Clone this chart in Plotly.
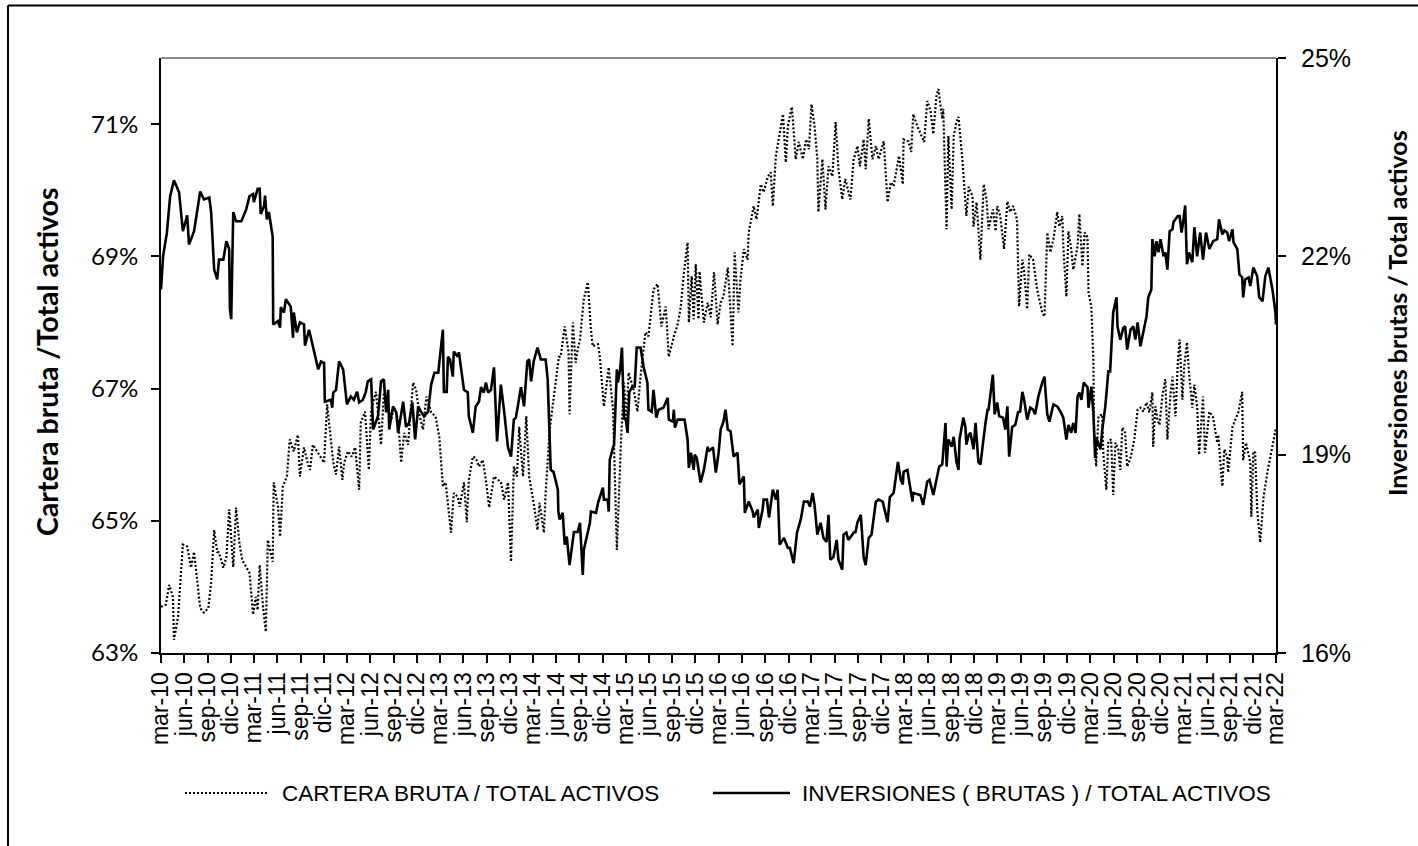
import pandas as pd
import plotly.graph_objects as go

# Inversiones (brutas) / Total activos, % (eje derecho)
inv_fechas = [
    "2010-03-01", "2010-03-09", "2010-03-24", "2010-04-06", "2010-04-21", "2010-05-11", "2010-05-26", "2010-06-12", "2010-06-19", "2010-07-09",
    "2010-08-02", "2010-08-17", "2010-09-07", "2010-09-14", "2010-09-26", "2010-10-08", "2010-10-15", "2010-11-01", "2010-11-13", "2010-11-24",
    "2010-11-27", "2010-12-02", "2010-12-10", "2010-12-21", "2011-01-11", "2011-01-30", "2011-02-12", "2011-02-26", "2011-03-01", "2011-03-16",
    "2011-03-24", "2011-03-28", "2011-04-10", "2011-04-14", "2011-04-21", "2011-04-29", "2011-05-14", "2011-05-16", "2011-06-04", "2011-06-12",
    "2011-06-15", "2011-06-27", "2011-07-05", "2011-07-24", "2011-08-02", "2011-08-05", "2011-08-17", "2011-08-29", "2011-09-14", "2011-09-18",
    "2011-10-04", "2011-10-23", "2011-11-09", "2011-11-20", "2011-12-02", "2011-12-05", "2011-12-29", "2012-01-03", "2012-01-07", "2012-01-18",
    "2012-01-30", "2012-02-15", "2012-03-01", "2012-03-16", "2012-03-28", "2012-04-10", "2012-04-18", "2012-05-03", "2012-05-14", "2012-05-22",
    "2012-06-04", "2012-06-12", "2012-07-01", "2012-07-13", "2012-07-24", "2012-08-02", "2012-08-10", "2012-08-14", "2012-08-29", "2012-09-11",
    "2012-09-18", "2012-10-08", "2012-10-19", "2012-10-31", "2012-11-13", "2012-11-24", "2012-12-06", "2012-12-17", "2012-12-29", "2013-01-14",
    "2013-01-26", "2013-02-08", "2013-02-23", "2013-02-27", "2013-03-13", "2013-03-17", "2013-03-28", "2013-04-02", "2013-04-10", "2013-04-21",
    "2013-04-25", "2013-05-11", "2013-05-15", "2013-06-04", "2013-06-19", "2013-06-23", "2013-07-09", "2013-07-20", "2013-08-02", "2013-08-10",
    "2013-08-21", "2013-08-29", "2013-09-07", "2013-09-18", "2013-09-30", "2013-10-12", "2013-10-27", "2013-11-09", "2013-11-24", "2013-12-06",
    "2013-12-17", "2013-12-25", "2014-01-07", "2014-01-14", "2014-01-26", "2014-02-08", "2014-02-15", "2014-02-23", "2014-03-05", "2014-03-20",
    "2014-04-02", "2014-04-21", "2014-04-29", "2014-05-11", "2014-05-22", "2014-06-08", "2014-06-10", "2014-06-15", "2014-06-27", "2014-07-05",
    "2014-07-13", "2014-07-24", "2014-08-10", "2014-08-25", "2014-09-03", "2014-09-14", "2014-09-18", "2014-10-12", "2014-10-16", "2014-11-05",
    "2014-11-13", "2014-12-02", "2014-12-06", "2014-12-21", "2014-12-25", "2014-12-29", "2015-01-11", "2015-01-15", "2015-01-26", "2015-01-30",
    "2015-02-08", "2015-02-15", "2015-02-23", "2015-03-01", "2015-03-09", "2015-03-16", "2015-03-28", "2015-04-06", "2015-04-14", "2015-04-29",
    "2015-05-11", "2015-05-26", "2015-05-30", "2015-06-12", "2015-06-19", "2015-06-30", "2015-07-09", "2015-07-28", "2015-08-14", "2015-08-18",
    "2015-09-03", "2015-09-07", "2015-09-11", "2015-09-22", "2015-10-19", "2015-10-31", "2015-11-05", "2015-11-13", "2015-11-24", "2015-11-28",
    "2015-12-06", "2015-12-21", "2016-01-03", "2016-01-18", "2016-01-22", "2016-02-08", "2016-02-19", "2016-03-01", "2016-03-09", "2016-03-20",
    "2016-03-28", "2016-04-06", "2016-04-17", "2016-04-29", "2016-05-14", "2016-05-22", "2016-06-08", "2016-06-12", "2016-06-27", "2016-07-13",
    "2016-07-17", "2016-08-02", "2016-08-06", "2016-08-21", "2016-08-25", "2016-09-07", "2016-09-15", "2016-09-30", "2016-10-12", "2016-10-19",
    "2016-10-27", "2016-11-13", "2016-11-28", "2016-12-06", "2016-12-21", "2017-01-03", "2017-01-18", "2017-01-30", "2017-02-15", "2017-02-23",
    "2017-03-05", "2017-03-13", "2017-03-24", "2017-04-06", "2017-04-17", "2017-04-29", "2017-05-07", "2017-05-14", "2017-05-26", "2017-06-08",
    "2017-06-15", "2017-06-30", "2017-07-05", "2017-07-16", "2017-07-24", "2017-08-14", "2017-08-21", "2017-08-29", "2017-09-11", "2017-09-22",
    "2017-09-30", "2017-10-12", "2017-10-23", "2017-11-09", "2017-11-20", "2017-12-06", "2017-12-25", "2018-01-03", "2018-01-18", "2018-01-22",
    "2018-02-04", "2018-02-15", "2018-02-23", "2018-02-26", "2018-03-13", "2018-04-02", "2018-04-05", "2018-05-03", "2018-05-14", "2018-05-30",
    "2018-06-08", "2018-06-23", "2018-07-09", "2018-07-16", "2018-07-28", "2018-08-10", "2018-08-14", "2018-08-21", "2018-09-03", "2018-09-11",
    "2018-09-22", "2018-09-30", "2018-10-04", "2018-10-19", "2018-10-27", "2018-10-31", "2018-11-09", "2018-11-16", "2018-11-28", "2018-12-06",
    "2018-12-17", "2018-12-25", "2019-01-14", "2019-01-22", "2019-01-26", "2019-02-12", "2019-02-19", "2019-03-01", "2019-03-09", "2019-03-24",
    "2019-04-02", "2019-04-10", "2019-04-17", "2019-04-29", "2019-05-11", "2019-05-22", "2019-05-30", "2019-06-08", "2019-06-15", "2019-06-27",
    "2019-07-09", "2019-07-20", "2019-07-28", "2019-08-10", "2019-08-25", "2019-09-03", "2019-09-07", "2019-09-14", "2019-09-22", "2019-10-08",
    "2019-10-23", "2019-11-05", "2019-11-16", "2019-11-28", "2019-12-06", "2019-12-17", "2019-12-25", "2020-01-03", "2020-01-11", "2020-01-18",
    "2020-01-26", "2020-02-04", "2020-02-19", "2020-02-23", "2020-03-05", "2020-03-13", "2020-03-20", "2020-03-24", "2020-04-10", "2020-04-17",
    "2020-04-29", "2020-05-11", "2020-05-18", "2020-05-26", "2020-05-30", "2020-06-12", "2020-06-16", "2020-06-27", "2020-07-09", "2020-07-16",
    "2020-07-24", "2020-08-06", "2020-08-17", "2020-08-25", "2020-09-03", "2020-09-14", "2020-09-26", "2020-10-08", "2020-10-15", "2020-10-27",
    "2020-10-31", "2020-11-09", "2020-11-16", "2020-11-24", "2020-12-02", "2020-12-14", "2020-12-21", "2020-12-29", "2021-01-07", "2021-01-18",
    "2021-01-22", "2021-02-08", "2021-02-15", "2021-02-23", "2021-03-01", "2021-03-09", "2021-03-16", "2021-03-24", "2021-04-06", "2021-04-14",
    "2021-04-25", "2021-05-07", "2021-05-18", "2021-05-30", "2021-06-12", "2021-06-27", "2021-07-13", "2021-07-20", "2021-08-02", "2021-08-10",
    "2021-08-21", "2021-08-29", "2021-09-11", "2021-09-15", "2021-09-30", "2021-10-08", "2021-10-19", "2021-10-23", "2021-10-31", "2021-11-13",
    "2021-11-20", "2021-12-02", "2021-12-17", "2021-12-25", "2022-01-07", "2022-01-18", "2022-01-30", "2022-02-08", "2022-02-15", "2022-02-27",
    "2022-03-01",
]
inv_valores = [
    21.50, 22.00, 22.35, 22.91, 23.15, 22.97, 22.38, 22.62, 22.18, 22.38,
    22.98, 22.86, 22.89, 22.67, 21.80, 21.65, 21.95, 21.95, 22.23, 22.11,
    21.20, 21.05, 22.67, 22.53, 22.53, 22.71, 22.91, 22.94, 22.82, 23.02,
    23.02, 22.64, 22.76, 22.92, 22.56, 22.67, 22.30, 20.97, 21.02, 20.92,
    21.23, 21.15, 21.35, 21.24, 20.77, 21.15, 20.85, 21.00, 20.97, 20.65,
    20.89, 20.59, 20.29, 20.41, 20.39, 19.80, 19.83, 19.71, 19.94, 19.98,
    20.41, 20.29, 19.76, 19.88, 19.83, 19.95, 19.79, 19.83, 19.95, 20.11,
    20.14, 19.38, 19.58, 20.11, 20.14, 19.64, 19.98, 19.38, 19.73, 19.64,
    19.33, 19.80, 19.42, 19.48, 19.79, 19.23, 19.73, 19.65, 19.58, 19.65,
    20.06, 20.24, 20.24, 20.39, 20.89, 19.95, 19.95, 20.48, 20.44, 20.18,
    20.56, 20.48, 20.55, 19.98, 19.94, 19.58, 19.33, 19.73, 19.80, 20.02,
    19.94, 20.09, 19.94, 19.98, 20.32, 19.20, 20.06, 19.65, 19.11, 18.97,
    19.53, 19.56, 19.86, 20.02, 19.73, 20.41, 20.44, 20.11, 20.41, 20.62,
    20.44, 20.44, 20.14, 18.77, 18.74, 18.47, 18.14, 18.02, 18.12, 17.64,
    17.76, 17.33, 17.83, 17.83, 17.97, 17.18, 17.56, 17.97, 18.14, 18.12,
    18.27, 18.50, 18.32, 18.32, 18.14, 18.92, 19.11, 19.15, 20.29, 20.09,
    20.29, 20.62, 19.53, 19.56, 19.33, 19.95, 20.03, 20.03, 20.62, 20.62,
    20.33, 20.09, 19.68, 19.65, 19.98, 19.56, 19.68, 19.71, 19.86, 19.53,
    19.50, 19.68, 19.41, 19.53, 19.53, 19.23, 18.80, 19.03, 18.77, 19.00,
    18.95, 18.58, 18.77, 19.12, 19.05, 19.11, 18.73, 19.03, 19.38, 19.50,
    19.68, 19.38, 19.35, 18.97, 19.03, 18.55, 18.67, 18.12, 18.29, 18.14,
    18.05, 18.17, 17.89, 18.17, 18.32, 18.32, 18.05, 18.47, 18.32, 18.47,
    17.64, 17.74, 17.59, 17.59, 17.36, 17.82, 18.02, 18.29, 18.29, 18.21,
    18.42, 18.24, 17.79, 17.97, 17.74, 17.68, 18.09, 17.41, 17.45, 17.71,
    17.41, 17.26, 17.79, 17.82, 17.71, 17.82, 17.83, 17.98, 18.09, 17.45,
    17.33, 17.74, 17.79, 18.29, 18.32, 18.29, 17.98, 18.36, 18.42, 18.55,
    18.89, 18.62, 18.55, 18.74, 18.77, 18.29, 18.42, 18.39, 18.24, 18.59,
    18.62, 18.39, 18.67, 18.82, 18.85, 19.48, 18.82, 19.23, 19.12, 19.27,
    18.89, 18.77, 19.23, 19.56, 19.42, 19.15, 19.30, 19.33, 19.08, 19.48,
    18.89, 18.85, 19.48, 19.68, 19.68, 20.21, 19.61, 19.79, 19.58, 19.56,
    19.38, 19.73, 18.97, 19.42, 19.45, 19.64, 19.65, 19.95, 19.83, 19.53,
    19.71, 19.68, 19.61, 19.88, 20.09, 20.18, 19.95, 19.61, 19.50, 19.76,
    19.73, 19.65, 19.56, 19.23, 19.45, 19.33, 19.48, 19.33, 19.88, 19.94,
    19.83, 20.09, 20.02, 19.71, 20.03, 19.64, 18.95, 19.26, 19.08, 19.38,
    19.73, 20.26, 20.26, 20.89, 21.15, 21.38, 20.94, 20.74, 20.92, 20.94,
    20.59, 20.89, 20.94, 20.74, 21.00, 20.64, 20.89, 21.09, 21.38, 21.50,
    22.26, 22.00, 22.23, 22.06, 22.26, 22.00, 22.06, 21.80, 22.38, 22.41,
    22.52, 22.61, 22.61, 22.36, 22.52, 22.77, 21.88, 22.06, 21.91, 22.44,
    22.00, 22.36, 21.95, 22.36, 22.11, 22.23, 22.26, 22.56, 22.33, 22.39,
    22.36, 22.23, 22.41, 22.21, 22.11, 21.73, 21.68, 21.38, 21.65, 21.68,
    21.55, 21.83, 21.70, 21.38, 21.32, 21.70, 21.83, 21.65, 21.50, 21.15,
    20.97,
]

# Cartera bruta / Total activos, % (eje izquierdo)
cartera_fechas = [
    "2010-03-01", "2010-03-20", "2010-04-02", "2010-04-17", "2010-04-21", "2010-05-07", "2010-05-26", "2010-06-12", "2010-06-27", "2010-07-09",
    "2010-07-24", "2010-08-02", "2010-08-17", "2010-09-03", "2010-09-14", "2010-09-26", "2010-10-08", "2010-10-15", "2010-11-01", "2010-11-13",
    "2010-11-24", "2010-12-10", "2010-12-21", "2011-01-03", "2011-01-14", "2011-01-30", "2011-02-12", "2011-02-26", "2011-03-09", "2011-03-16",
    "2011-03-24", "2011-04-06", "2011-04-17", "2011-04-25", "2011-05-14", "2011-05-18", "2011-06-04", "2011-06-12", "2011-06-23", "2011-07-09",
    "2011-07-20", "2011-08-05", "2011-08-21", "2011-08-29", "2011-09-14", "2011-09-30", "2011-10-08", "2011-10-19", "2011-11-05", "2011-11-20",
    "2011-12-02", "2011-12-14", "2011-12-25", "2012-01-07", "2012-01-18", "2012-01-30", "2012-02-12", "2012-02-19", "2012-03-05", "2012-03-20",
    "2012-04-02", "2012-04-18", "2012-04-24", "2012-05-11", "2012-05-26", "2012-06-04", "2012-06-23", "2012-07-13", "2012-07-24", "2012-08-10",
    "2012-08-21", "2012-09-03", "2012-09-18", "2012-09-30", "2012-10-12", "2012-10-27", "2012-11-16", "2012-11-28", "2012-12-10", "2012-12-25",
    "2013-01-07", "2013-01-26", "2013-02-12", "2013-02-27", "2013-03-13", "2013-03-24", "2013-04-14", "2013-04-25", "2013-05-11", "2013-05-18",
    "2013-06-04", "2013-06-15", "2013-06-23", "2013-07-09", "2013-07-20", "2013-08-02", "2013-08-17", "2013-08-29", "2013-09-11", "2013-09-30",
    "2013-10-15", "2013-10-27", "2013-11-09", "2013-11-24", "2013-12-06", "2013-12-17", "2013-12-29", "2014-01-07", "2014-01-22", "2014-02-04",
    "2014-02-15", "2014-03-05", "2014-03-20", "2014-03-28", "2014-04-14", "2014-04-21", "2014-05-07", "2014-05-22", "2014-06-12", "2014-06-19",
    "2014-07-05", "2014-07-20", "2014-07-24", "2014-08-06", "2014-08-17", "2014-08-25", "2014-09-03", "2014-09-18", "2014-10-04", "2014-10-16",
    "2014-10-23", "2014-11-13", "2014-11-20", "2014-12-06", "2014-12-25", "2015-01-11", "2015-01-26", "2015-02-12", "2015-02-23", "2015-03-05",
    "2015-03-13", "2015-04-02", "2015-04-17", "2015-04-29", "2015-05-18", "2015-05-30", "2015-06-19", "2015-07-05", "2015-07-20", "2015-08-06",
    "2015-08-18", "2015-09-07", "2015-09-22", "2015-10-04", "2015-10-15", "2015-10-31", "2015-11-05", "2015-11-16", "2015-11-24", "2015-12-02",
    "2015-12-13", "2015-12-17", "2016-01-03", "2016-01-18", "2016-01-30", "2016-02-12", "2016-02-26", "2016-03-09", "2016-03-20", "2016-04-06",
    "2016-04-25", "2016-05-03", "2016-05-18", "2016-05-26", "2016-06-08", "2016-06-23", "2016-06-27", "2016-07-17", "2016-07-28", "2016-08-14",
    "2016-08-25", "2016-09-11", "2016-09-22", "2016-09-30", "2016-10-12", "2016-10-23", "2016-11-09", "2016-11-20", "2016-11-28", "2016-12-14",
    "2016-12-29", "2017-01-10", "2017-01-26", "2017-02-08", "2017-02-19", "2017-03-01", "2017-03-13", "2017-03-24", "2017-03-28", "2017-04-13",
    "2017-04-25", "2017-05-07", "2017-05-22", "2017-06-04", "2017-06-15", "2017-06-30", "2017-07-12", "2017-08-01", "2017-08-14", "2017-08-29",
    "2017-09-07", "2017-09-22", "2017-09-30", "2017-10-12", "2017-10-27", "2017-11-09", "2017-11-20", "2017-12-10", "2017-12-25", "2018-01-07",
    "2018-01-18", "2018-02-08", "2018-02-23", "2018-02-26", "2018-03-17", "2018-03-28", "2018-04-05", "2018-04-21", "2018-05-07", "2018-05-18",
    "2018-05-30", "2018-06-12", "2018-06-23", "2018-07-05", "2018-07-13", "2018-07-28", "2018-08-01", "2018-08-14", "2018-08-21", "2018-09-03",
    "2018-09-11", "2018-09-22", "2018-09-30", "2018-10-15", "2018-10-31", "2018-11-09", "2018-11-24", "2018-11-28", "2018-12-10", "2018-12-25",
    "2019-01-07", "2019-01-18", "2019-01-26", "2019-02-12", "2019-02-23", "2019-03-01", "2019-03-13", "2019-03-28", "2019-04-10", "2019-04-21",
    "2019-05-03", "2019-05-18", "2019-05-26", "2019-06-08", "2019-06-15", "2019-06-27", "2019-07-05", "2019-07-20", "2019-08-05", "2019-08-25",
    "2019-09-03", "2019-09-14", "2019-09-26", "2019-10-08", "2019-10-23", "2019-10-31", "2019-11-12", "2019-11-16", "2019-11-28", "2019-12-06",
    "2019-12-17", "2019-12-25", "2020-01-11", "2020-01-18", "2020-01-30", "2020-02-08", "2020-02-19", "2020-02-23", "2020-03-05", "2020-03-13",
    "2020-03-16", "2020-03-24", "2020-04-02", "2020-04-17", "2020-04-21", "2020-05-03", "2020-05-11", "2020-05-22", "2020-05-30", "2020-06-08",
    "2020-06-19", "2020-06-27", "2020-07-05", "2020-07-16", "2020-07-24", "2020-08-06", "2020-08-21", "2020-09-03", "2020-09-14", "2020-09-26",
    "2020-10-08", "2020-10-19", "2020-10-31", "2020-11-03", "2020-11-12", "2020-11-20", "2020-11-28", "2020-12-10", "2020-12-21", "2020-12-29",
    "2021-01-11", "2021-01-18", "2021-01-30", "2021-02-08", "2021-02-15", "2021-02-26", "2021-03-05", "2021-03-16", "2021-03-24", "2021-04-06",
    "2021-04-14", "2021-04-25", "2021-05-03", "2021-05-14", "2021-05-18", "2021-05-26", "2021-06-12", "2021-06-27", "2021-07-13", "2021-07-17",
    "2021-08-02", "2021-08-10", "2021-08-21", "2021-08-25", "2021-09-11", "2021-09-22", "2021-10-04", "2021-10-19", "2021-10-23", "2021-11-03",
    "2021-11-20", "2021-11-24", "2021-12-02", "2021-12-09", "2021-12-17", "2021-12-29", "2022-01-11", "2022-01-26", "2022-02-15", "2022-03-01",
]
cartera_valores = [
    63.70, 63.73, 64.03, 63.85, 63.20, 63.55, 64.64, 64.61, 64.29, 64.53,
    64.00, 63.68, 63.61, 63.68, 64.06, 64.86, 64.53, 64.52, 64.29, 64.45,
    65.17, 64.30, 65.20, 64.67, 64.41, 64.30, 64.21, 63.58, 63.85, 63.65,
    64.33, 63.70, 63.32, 64.71, 64.38, 65.58, 65.21, 64.76, 65.52, 65.67,
    66.23, 66.05, 66.30, 65.67, 66.11, 65.85, 65.77, 66.15, 66.05, 65.97,
    65.88, 66.76, 66.33, 65.89, 65.70, 66.12, 65.62, 65.88, 66.05, 65.97,
    66.11, 65.47, 66.48, 66.65, 65.77, 66.68, 66.95, 66.15, 66.94, 66.73,
    66.53, 66.71, 66.53, 65.88, 66.33, 66.15, 67.09, 66.98, 66.61, 66.38,
    66.88, 66.64, 66.58, 66.27, 65.52, 65.58, 64.82, 65.42, 65.36, 65.21,
    65.58, 64.98, 65.62, 65.97, 65.95, 65.82, 65.92, 65.62, 65.20, 65.67,
    65.62, 65.59, 65.32, 65.58, 64.38, 65.82, 65.67, 66.42, 65.67, 66.58,
    65.67, 65.27, 64.86, 65.27, 64.82, 65.42, 66.38, 66.88, 67.48, 67.48,
    67.94, 67.55, 66.61, 68.00, 67.39, 67.59, 67.74, 68.35, 68.61, 67.89,
    67.64, 67.67, 67.48, 66.73, 67.32, 66.68, 64.56, 66.27, 67.09, 66.48,
    67.24, 66.98, 66.65, 67.18, 67.85, 67.79, 68.50, 68.58, 67.94, 68.24,
    67.48, 67.79, 67.97, 68.23, 68.70, 69.21, 68.00, 68.70, 68.05, 68.88,
    68.05, 68.77, 68.00, 68.30, 68.08, 68.76, 67.97, 68.30, 68.39, 68.83,
    67.64, 69.06, 68.15, 68.65, 69.11, 68.95, 69.36, 69.76, 69.56, 70.09,
    69.97, 70.21, 70.27, 69.76, 70.52, 70.77, 71.15, 70.42, 70.97, 71.26,
    70.47, 70.73, 70.47, 70.77, 70.62, 71.30, 70.97, 70.47, 69.67, 70.47,
    69.71, 70.36, 70.21, 71.03, 70.32, 69.86, 70.17, 69.86, 70.47, 70.67,
    70.36, 70.77, 70.32, 71.08, 70.47, 70.67, 70.47, 70.74, 69.82, 70.12,
    70.06, 70.52, 70.09, 70.77, 70.74, 70.58, 71.15, 70.97, 70.82, 70.73,
    71.35, 71.20, 70.85, 71.42, 71.53, 71.08, 71.23, 69.41, 70.82, 69.71,
    70.82, 71.03, 71.11, 70.47, 69.61, 70.05, 69.91, 69.45, 69.82, 68.95,
    70.09, 69.86, 69.41, 69.71, 69.38, 69.76, 69.61, 69.11, 69.83, 69.67,
    69.76, 69.56, 68.24, 68.95, 68.76, 68.20, 69.03, 68.95, 68.50, 68.15,
    68.09, 69.36, 69.06, 69.26, 69.67, 69.45, 69.61, 69.15, 68.39, 69.38,
    69.11, 68.80, 69.15, 69.64, 68.85, 69.36, 69.29, 68.45, 68.24, 67.44,
    66.38, 65.82, 66.58, 66.61, 66.03, 65.47, 66.20, 66.23, 65.39, 66.18,
    66.08, 65.77, 66.41, 66.33, 65.82, 65.95, 66.23, 66.68, 66.71, 66.65,
    66.79, 66.64, 66.94, 66.12, 66.73, 66.53, 66.45, 66.91, 67.14, 66.23,
    66.95, 67.18, 66.58, 67.39, 67.74, 66.83, 67.33, 67.70, 67.24, 66.71,
    67.06, 66.73, 66.00, 66.68, 66.88, 66.03, 66.65, 66.56, 66.18, 66.30,
    65.52, 66.08, 65.97, 65.73, 66.42, 66.53, 66.64, 66.95, 65.92, 66.18,
    65.88, 65.06, 66.05, 66.03, 65.17, 64.67, 65.36, 65.73, 66.15, 66.41,
]

etiquetas_trimestre = [
    "mar-10", "jun-10", "sep-10", "dic-10", "mar-11", "jun-11", "sep-11", "dic-11",
    "mar-12", "jun-12", "sep-12", "dic-12", "mar-13", "jun-13", "sep-13", "dic-13",
    "mar-14", "jun-14", "sep-14", "dic-14", "mar-15", "jun-15", "sep-15", "dic-15",
    "mar-16", "jun-16", "sep-16", "dic-16", "mar-17", "jun-17", "sep-17", "dic-17",
    "mar-18", "jun-18", "sep-18", "dic-18", "mar-19", "jun-19", "sep-19", "dic-19",
    "mar-20", "jun-20", "sep-20", "dic-20", "mar-21", "jun-21", "sep-21", "dic-21",
    "mar-22",
]
fechas_trimestre = pd.date_range("2010-03-01", "2022-03-01", freq="3MS")

ticks_izq = [63, 65, 67, 69, 71]
etiquetas_izq = ["63%", "65%", "67%", "69%", "71%"]
ticks_der = [16, 19, 22, 25]
etiquetas_der = ["16%", "19%", "22%", "25%"]

nombre_cartera = "CARTERA BRUTA / TOTAL ACTIVOS"
nombre_inv = "INVERSIONES ( BRUTAS ) / TOTAL ACTIVOS"

W, H = 1418, 846
L, R, T, B = 161, 142, 58, 193
PW, PH = W - L - R, H - T - B


def px(x):
    return (x - L) / PW


def py(y):
    return (H - B - y) / PH


SANS = "Liberation Sans, Arial, sans-serif"
CALI = "Lato, Carlito, sans-serif"

fig = go.Figure()
fig.add_trace(go.Scatter(
    x=cartera_fechas, y=cartera_valores, name=nombre_cartera, mode="lines",
    line=dict(color="black", width=2.2, dash="2px,2px"), yaxis="y",
))
fig.add_trace(go.Scatter(
    x=inv_fechas, y=inv_valores, name=nombre_inv, mode="lines",
    line=dict(color="black", width=2.6), yaxis="y2",
))

eje_y_comun = dict(showgrid=False, zeroline=False, ticks="outside", ticklen=8,
                   tickwidth=2, tickcolor="black", showline=True, linecolor="black",
                   linewidth=2)

fig.update_layout(
    width=W, height=H,
    margin=dict(l=L, r=R, t=T, b=B, pad=0),
    paper_bgcolor="white", plot_bgcolor="white",
    showlegend=False,
    xaxis=dict(
        type="date", range=["2010-03-01", "2022-03-01"],
        tickmode="array", tickvals=fechas_trimestre, ticktext=etiquetas_trimestre,
        tickangle=-90, ticks="outside", ticklen=8, tickwidth=2, tickcolor="black",
        showline=True, linecolor="black", linewidth=2, showgrid=False, zeroline=False,
        tickfont=dict(family=SANS, size=23, color="black"),
    ),
    yaxis=dict(
        range=[63, 72], tickmode="array", tickvals=ticks_izq, ticktext=etiquetas_izq,
        tickfont=dict(family=CALI, size=24, color="black"),
        ticklabelstandoff=8, **eje_y_comun,
    ),
    yaxis2=dict(
        range=[16, 25], tickmode="array", tickvals=ticks_der, ticktext=etiquetas_der,
        overlaying="y", side="right",
        tickfont=dict(family=SANS, size=25, color="black"),
        ticklabelstandoff=10, **eje_y_comun,
    ),
    # inner halves of the crossing tick marks
    yaxis3=dict(range=[63, 72], tickmode="array", tickvals=ticks_izq,
                overlaying="y", side="left", ticks="inside", ticklen=8, tickwidth=2,
                tickcolor="black", showticklabels=False, showline=False,
                showgrid=False, zeroline=False),
    yaxis4=dict(range=[16, 25], tickmode="array", tickvals=ticks_der,
                overlaying="y", side="right", ticks="inside", ticklen=8, tickwidth=2,
                tickcolor="black", showticklabels=False, showline=False,
                showgrid=False, zeroline=False),
)

shapes = [
    # grey top edge of the plot frame
    dict(type="line", xref="paper", yref="paper", x0=0, x1=1, y0=1, y1=1,
         line=dict(color="#8c8c8c", width=2)),
    # outer border of the chart
    dict(type="line", xref="paper", yref="paper", x0=px(8), x1=px(8), y0=py(5.5), y1=py(H + 20),
         line=dict(color="black", width=2)),
    dict(type="line", xref="paper", yref="paper", x0=px(8), x1=px(W + 20), y0=py(5.5), y1=py(5.5),
         line=dict(color="black", width=2)),
    # legend keys
    dict(type="line", xref="paper", yref="paper", x0=px(185), x1=px(267), y0=py(793), y1=py(793),
         line=dict(color="black", width=2.2, dash="2px,2px")),
    dict(type="line", xref="paper", yref="paper", x0=px(713), x1=px(790), y0=py(793), y1=py(793),
         line=dict(color="black", width=2.6)),
]

annotations = [
    dict(text=nombre_cartera, xref="paper", yref="paper", x=px(280), y=py(793),
         xanchor="left", yanchor="middle", showarrow=False,
         font=dict(family=SANS, size=22.5, color="black")),
    dict(text=nombre_inv, xref="paper", yref="paper", x=px(800), y=py(793),
         xanchor="left", yanchor="middle", showarrow=False,
         font=dict(family=SANS, size=22.5, color="black")),
    dict(text="<b>Cartera bruta /Total activos</b>", xref="paper", yref="paper",
         x=px(47), y=py(362), textangle=-90, showarrow=False,
         xanchor="center", yanchor="middle",
         font=dict(family=CALI, size=28.5, color="black")),
    dict(text="<b>Inversiones brutas / Total activos</b>", xref="paper", yref="paper",
         x=px(1397), y=py(313), textangle=-90, showarrow=False,
         xanchor="center", yanchor="middle",
         font=dict(family=CALI, size=25, color="black")),
]

fig.update_layout(shapes=shapes, annotations=annotations)
fig.write_html("out.html")
